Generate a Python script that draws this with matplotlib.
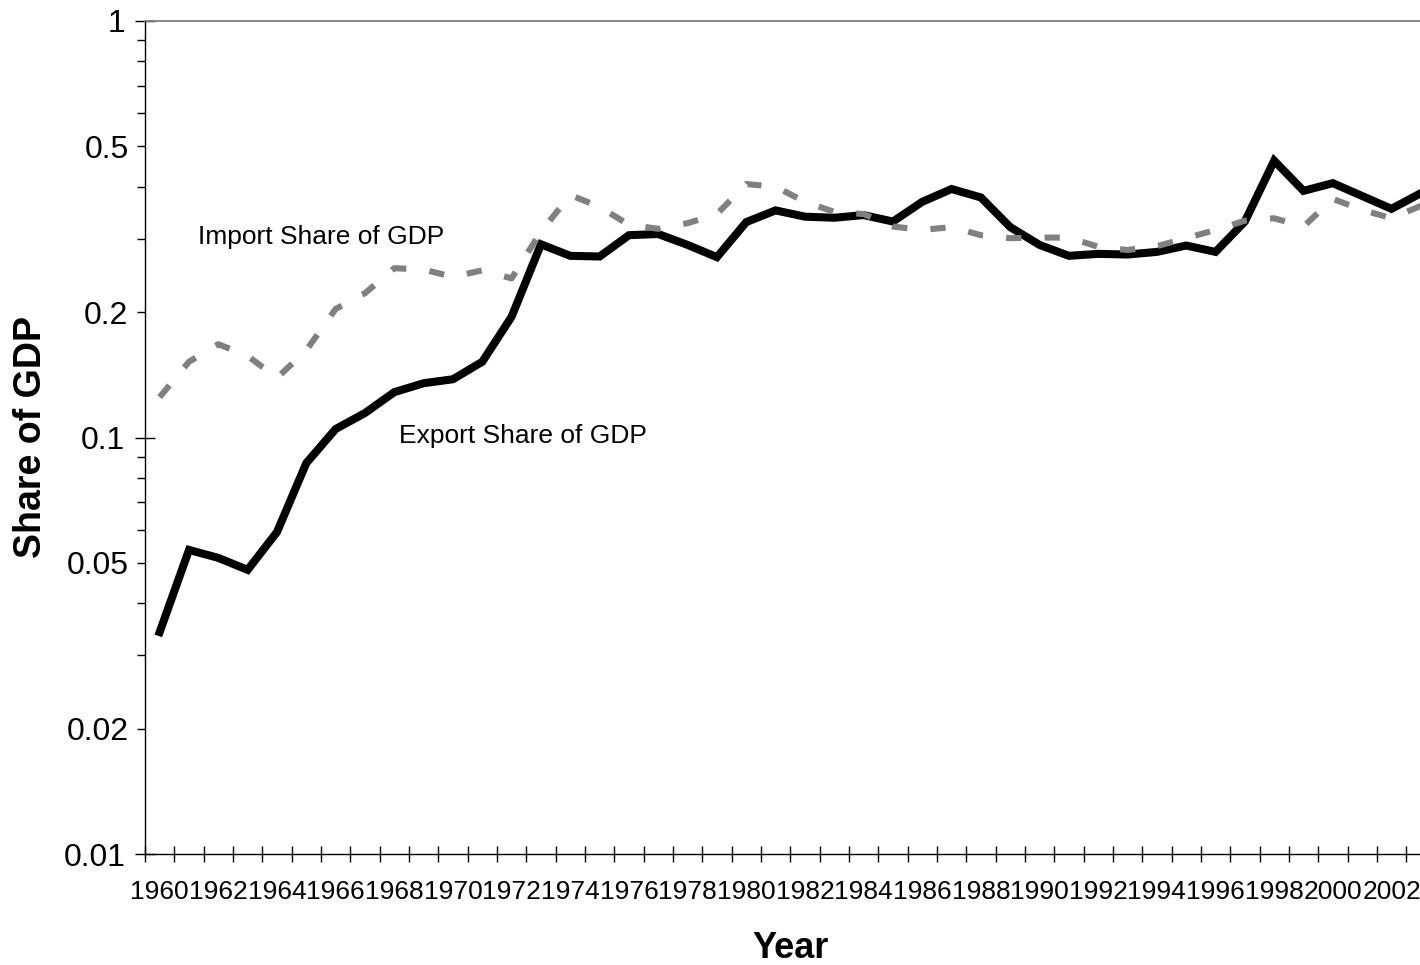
import matplotlib
matplotlib.use("Agg")
import matplotlib.pyplot as plt
from matplotlib.ticker import FixedLocator, FuncFormatter, NullFormatter

plt.rcParams["font.family"] = ["Liberation Sans", "DejaVu Sans"]

# Annual series, 1960-2003
years = list(range(1960, 2004))
export_share = [0.0341, 0.0537, 0.0514, 0.0481, 0.0593, 0.0868, 0.1048, 0.1145,
                0.1285, 0.135, 0.138, 0.152, 0.195, 0.291, 0.273, 0.272,
                0.306, 0.308, 0.290, 0.271, 0.329, 0.351, 0.339, 0.337,
                0.342, 0.330, 0.368, 0.395, 0.377, 0.320, 0.290, 0.273,
                0.276, 0.275, 0.279, 0.289, 0.279, 0.330, 0.462, 0.391,
                0.408, 0.380, 0.354, 0.386]
import_share = [0.125, 0.152, 0.1675, 0.157, 0.139, 0.162, 0.2035, 0.222,
                0.255, 0.253, 0.243, 0.252, 0.241, 0.312, 0.382, 0.358,
                0.324, 0.317, 0.327, 0.344, 0.406, 0.400, 0.368, 0.348,
                0.344, 0.321, 0.315, 0.320, 0.306, 0.301, 0.302, 0.302,
                0.287, 0.282, 0.288, 0.301, 0.315, 0.3315, 0.336, 0.321,
                0.374, 0.352, 0.336, 0.360]
ytick_values = [0.01, 0.02, 0.05, 0.1, 0.2, 0.5, 1]
year_labels = [str(y) for y in years[::2]]

fig = plt.figure(figsize=(14.2, 9.65), dpi=100)
ax = fig.add_axes([145 / 1420, 111 / 965, 1290.5 / 1420, 833 / 965])

idx = list(range(len(years)))
ax.plot(idx, export_share, color="black", lw=5.8, solid_joinstyle="miter",
        zorder=3)
ax.plot(idx, import_share, color="#808080", lw=4.4,
        linestyle=(0, (2.5, 3.8)), dash_capstyle="butt", zorder=4)

ax.set_yscale("log")
ax.set_ylim(0.01, 1)
ax.set_xlim(-0.5, len(years) - 0.5)

# y axis: decade ticks cross the axis, intermediate ones point outward
decades = [0.01, 0.1, 1]
minors = [m * d for d in [0.01, 0.1] for m in range(2, 10)]
fmt = FuncFormatter(lambda v, p: ("%g" % v) if any(abs(v - t) < 1e-9 for t in ytick_values) else "")
ax.yaxis.set_major_locator(FixedLocator(decades))
ax.yaxis.set_minor_locator(FixedLocator(minors))
ax.yaxis.set_major_formatter(fmt)
ax.yaxis.set_minor_formatter(fmt)
ax.tick_params(axis="y", which="major", direction="inout", length=14.4,
               width=1.0, labelsize=23, pad=7)
ax.tick_params(axis="y", which="minor", direction="out", length=5.8,
               width=1.0, labelsize=23, pad=6)

# x axis: ticks at category boundaries, labels every other year
ax.xaxis.set_major_locator(FixedLocator([i - 0.5 for i in range(len(years) + 1)]))
ax.xaxis.set_major_formatter(NullFormatter())
ax.xaxis.set_minor_locator(FixedLocator(idx[::2]))
ax.xaxis.set_minor_formatter(FuncFormatter(lambda v, p: year_labels[p] if p < len(year_labels) else ""))
ax.tick_params(axis="x", which="major", direction="inout", length=12.2,
               width=1.0)
ax.tick_params(axis="x", which="minor", length=0, labelsize=19, pad=19)

for side in ("left", "bottom"):
    ax.spines[side].set_linewidth(1.0)
    ax.spines[side].set_color("black")
ax.spines["top"].set_color("#808080")
ax.spines["top"].set_linewidth(1.3)
ax.spines["right"].set_visible(False)

ax.set_ylabel("Share of GDP", fontsize=27, fontweight="bold")
ax.yaxis.set_label_coords((31 - 145) / 1290.5, 0.5)
ax.yaxis.label.set_va("center")
ax.set_xlabel("Year", fontsize=26, fontweight="bold")
ax.xaxis.set_label_coords(0.5, (854 - 948) / 833)
ax.xaxis.label.set_va("center")

ax.text(1.31, 0.303, "Import Share of GDP", fontsize=19, ha="left", va="center")
ax.text(8.16, 0.101, "Export Share of GDP", fontsize=19, ha="left", va="center")

fig.savefig("out.png", dpi=100, facecolor="white")
